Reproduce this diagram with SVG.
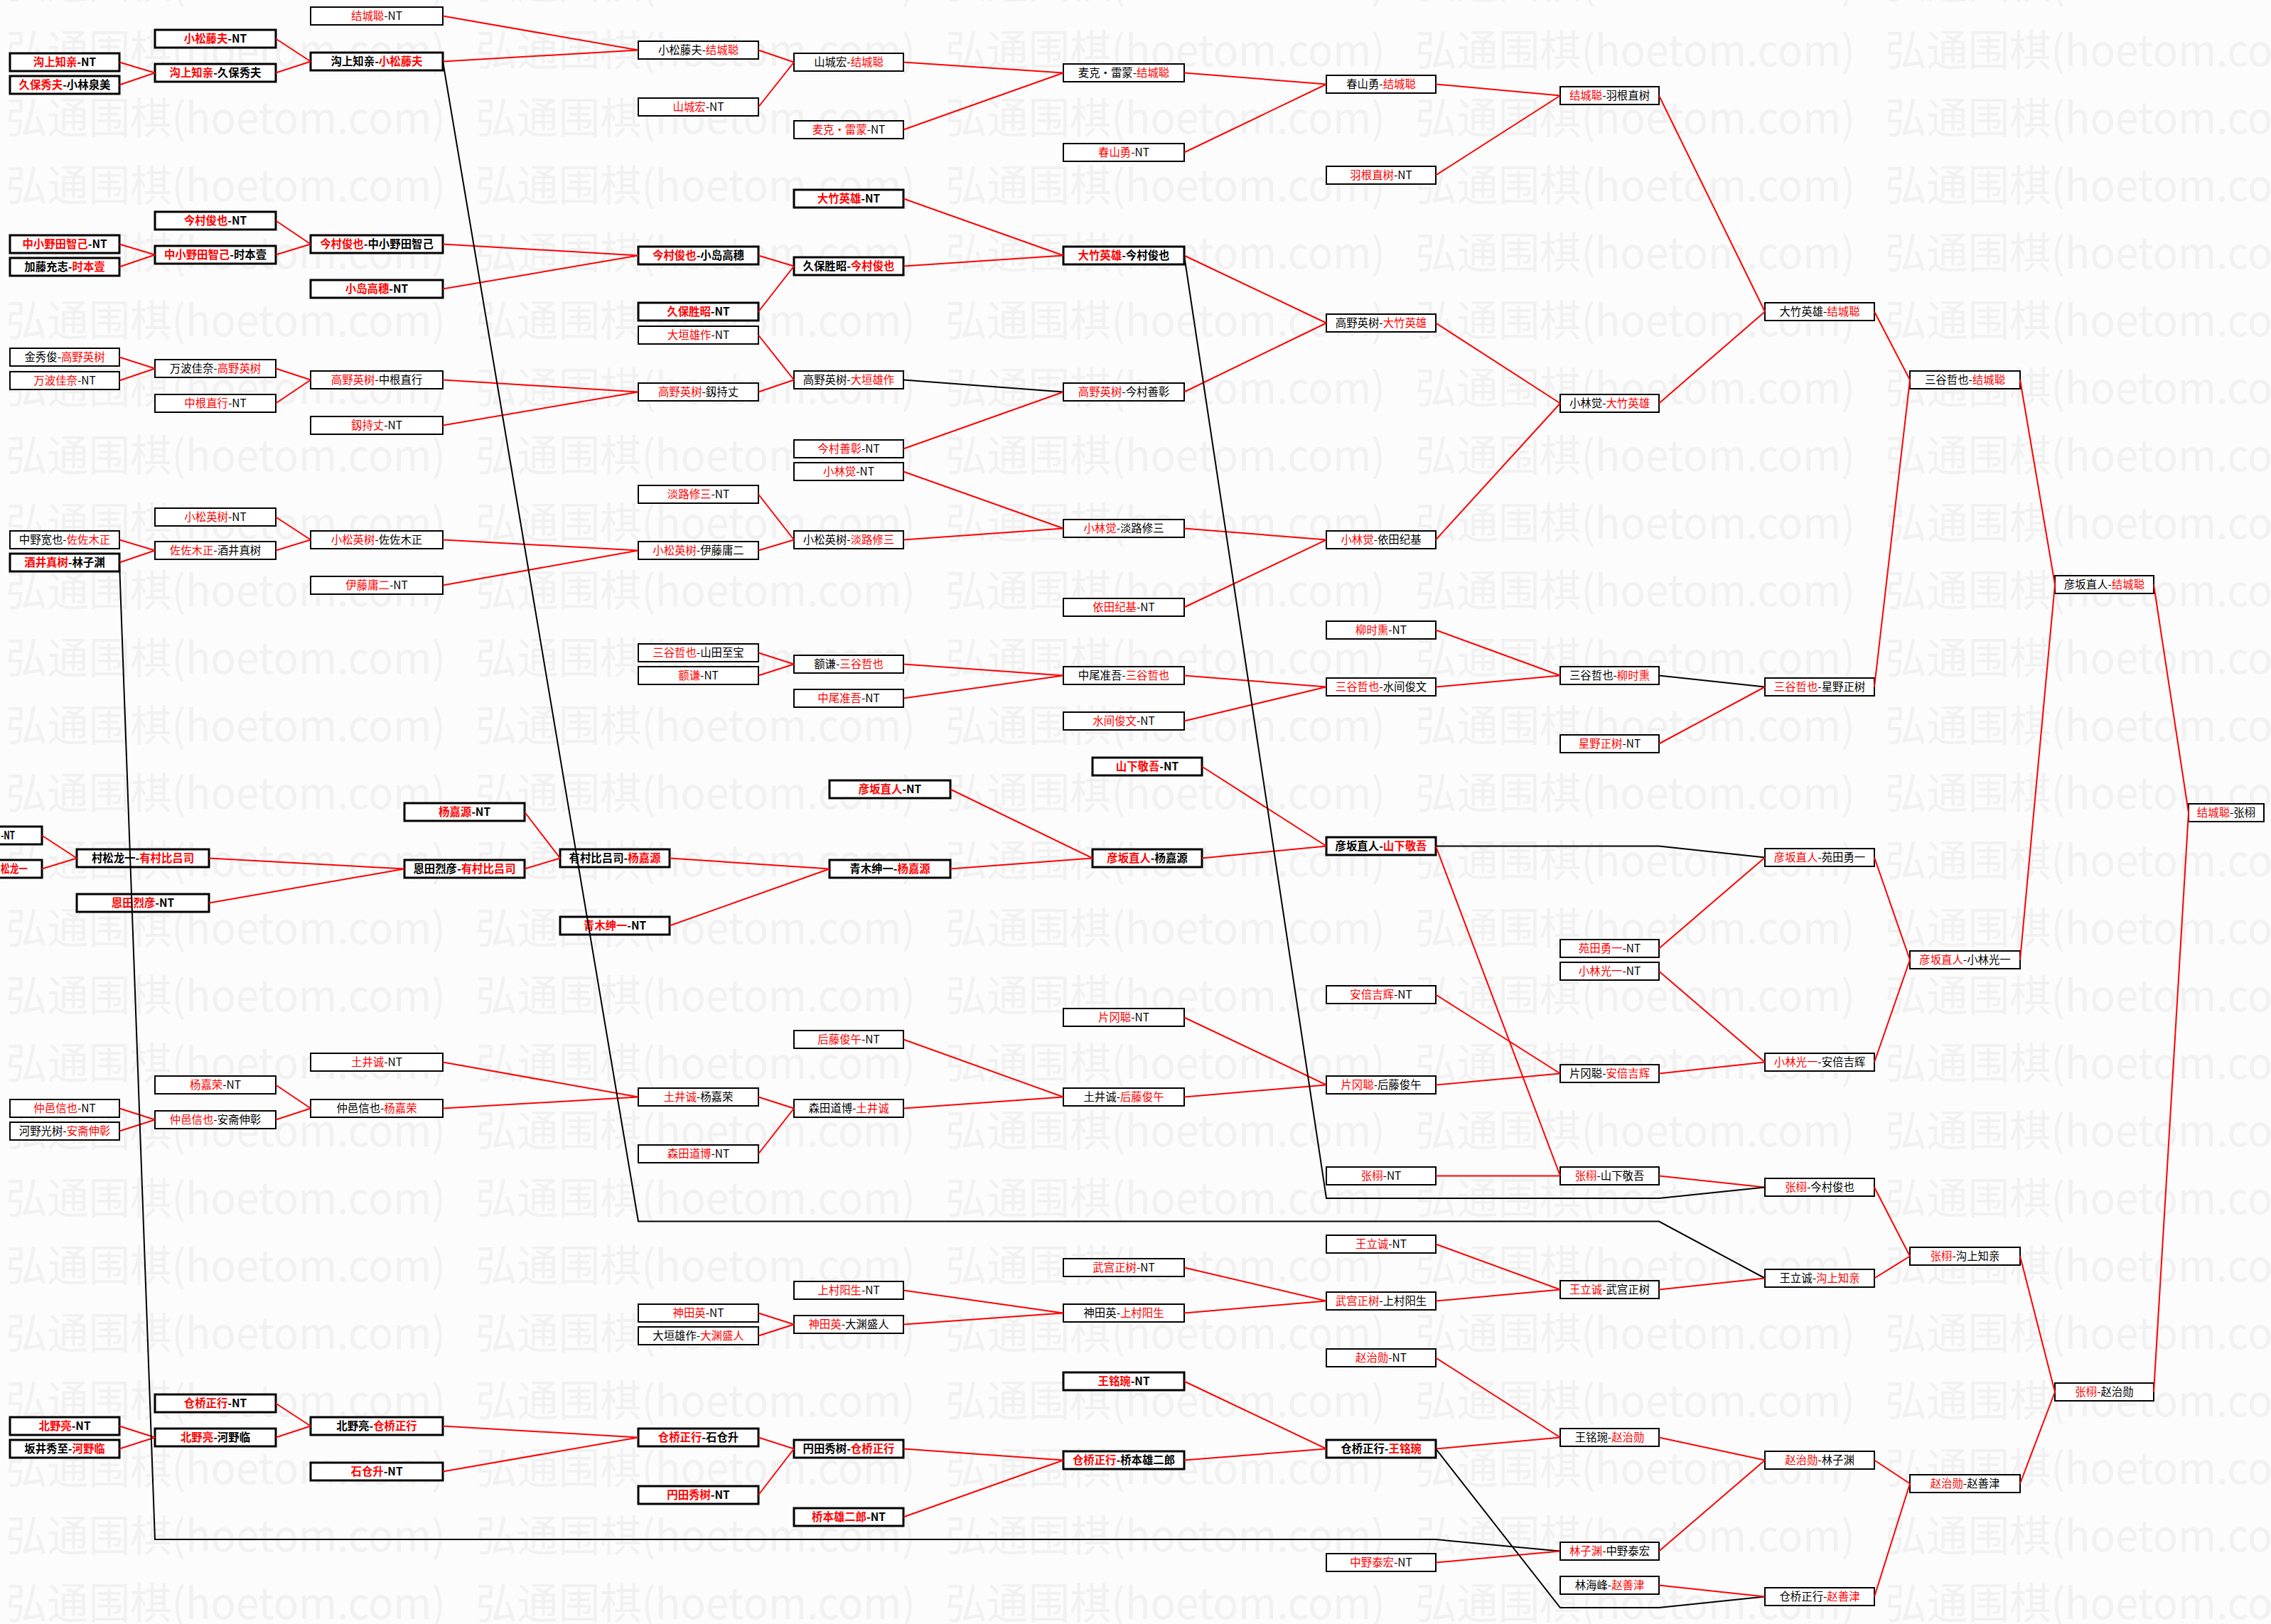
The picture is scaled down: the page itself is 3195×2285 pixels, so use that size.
<svg xmlns="http://www.w3.org/2000/svg" width="3195" height="2285" viewBox="0 0 3195 2285">
<style>
.bg{fill:#fcfcfc}
.nd rect{fill:#fff;stroke:#000;stroke-width:2}
.nd.bd rect{stroke-width:3}
.nd text{font-family:"Noto Sans CJK SC","Noto Sans",sans-serif;font-size:15.4px;text-anchor:middle;fill:#000}
.nd.bd text{font-weight:bold}
.r{fill:#f00}
#edges line,#edges polyline{fill:none;stroke:#f00;stroke-width:2}
#edges .k{stroke:#000}
.wm{font-family:"Noto Sans CJK SC",sans-serif;font-size:60px;fill:#f1f1f1}
</style>
<defs>
<pattern id="wmp" patternUnits="userSpaceOnUse" x="8" y="30" width="661" height="95">
<text class="wm" x="0" y="63" textLength="619" lengthAdjust="spacingAndGlyphs">弘通围棋(hoetom.com)</text>
</pattern>
</defs>
<rect class="bg" x="0" y="0" width="3195" height="2285"/>
<rect id="watermark" x="0" y="0" width="3195" height="2285" fill="url(#wmp)"/>
<g id="nodes">
<g id="A1" class="nd bd"><rect x="14" y="75" width="154" height="25"/><text x="91" y="93"><tspan class="r">沟上知亲</tspan>-NT</text></g>
<g id="A2" class="nd bd"><rect x="14" y="107" width="154" height="25"/><text x="91" y="125"><tspan class="r">久保秀夫</tspan>-小林泉美</text></g>
<g id="B1" class="nd bd"><rect x="218" y="42" width="170" height="25"/><text x="303" y="60"><tspan class="r">小松藤夫</tspan>-NT</text></g>
<g id="B2" class="nd bd"><rect x="218" y="90" width="170" height="25"/><text x="303" y="108"><tspan class="r">沟上知亲</tspan>-久保秀夫</text></g>
<g id="C1" class="nd"><rect x="437" y="10" width="186" height="25"/><text x="530" y="28"><tspan class="r">结城聪</tspan>-NT</text></g>
<g id="C2" class="nd bd"><rect x="437" y="74" width="186" height="25"/><text x="530" y="92">沟上知亲-<tspan class="r">小松藤夫</tspan></text></g>
<g id="D1" class="nd"><rect x="898" y="58" width="169" height="25"/><text x="982.5" y="76">小松藤夫-<tspan class="r">结城聪</tspan></text></g>
<g id="D2" class="nd"><rect x="898" y="138" width="169" height="25"/><text x="982.5" y="156"><tspan class="r">山城宏</tspan>-NT</text></g>
<g id="E1" class="nd"><rect x="1117" y="75" width="154" height="25"/><text x="1194" y="93">山城宏-<tspan class="r">结城聪</tspan></text></g>
<g id="E2" class="nd"><rect x="1117" y="170" width="154" height="25"/><text x="1194" y="188"><tspan class="r">麦克・雷蒙</tspan>-NT</text></g>
<g id="F1" class="nd"><rect x="1496" y="90" width="170" height="25"/><text x="1581" y="108">麦克・雷蒙-<tspan class="r">结城聪</tspan></text></g>
<g id="F2" class="nd"><rect x="1496" y="202" width="170" height="25"/><text x="1581" y="220"><tspan class="r">春山勇</tspan>-NT</text></g>
<g id="G1" class="nd"><rect x="1866" y="106" width="154" height="25"/><text x="1943" y="124">春山勇-<tspan class="r">结城聪</tspan></text></g>
<g id="G2" class="nd"><rect x="1866" y="234" width="154" height="25"/><text x="1943" y="252"><tspan class="r">羽根直树</tspan>-NT</text></g>
<g id="H1" class="nd"><rect x="2195" y="122" width="139" height="25"/><text x="2264.5" y="140"><tspan class="r">结城聪</tspan>-羽根直树</text></g>
<g id="I1" class="nd"><rect x="2483" y="426" width="154" height="25"/><text x="2560" y="444">大竹英雄-<tspan class="r">结城聪</tspan></text></g>
<g id="J1" class="nd"><rect x="2687" y="522" width="155" height="25"/><text x="2764.5" y="540">三谷哲也-<tspan class="r">结城聪</tspan></text></g>
<g id="K1" class="nd"><rect x="2891" y="810" width="139" height="25"/><text x="2960.5" y="828">彦坂直人-<tspan class="r">结城聪</tspan></text></g>
<g id="L1" class="nd"><rect x="3079" y="1131" width="106" height="25"/><text x="3132" y="1149"><tspan class="r">结城聪</tspan>-张栩</text></g>

<g id="A3" class="nd bd"><rect x="14" y="331" width="154" height="25"/><text x="91" y="349"><tspan class="r">中小野田智己</tspan>-NT</text></g>
<g id="A4" class="nd bd"><rect x="14" y="363" width="154" height="25"/><text x="91" y="381">加藤充志-<tspan class="r">时本壹</tspan></text></g>
<g id="B3" class="nd bd"><rect x="218" y="298" width="170" height="25"/><text x="303" y="316"><tspan class="r">今村俊也</tspan>-NT</text></g>
<g id="B4" class="nd bd"><rect x="218" y="346" width="170" height="25"/><text x="303" y="364"><tspan class="r">中小野田智己</tspan>-时本壹</text></g>
<g id="C3" class="nd bd"><rect x="437" y="331" width="186" height="25"/><text x="530" y="349"><tspan class="r">今村俊也</tspan>-中小野田智己</text></g>
<g id="C4" class="nd bd"><rect x="437" y="394" width="186" height="25"/><text x="530" y="412"><tspan class="r">小岛高穗</tspan>-NT</text></g>
<g id="D3" class="nd bd"><rect x="898" y="347" width="169" height="25"/><text x="982.5" y="365"><tspan class="r">今村俊也</tspan>-小岛高穗</text></g>
<g id="D4" class="nd bd"><rect x="898" y="426" width="169" height="25"/><text x="982.5" y="444"><tspan class="r">久保胜昭</tspan>-NT</text></g>
<g id="E3" class="nd bd"><rect x="1117" y="267" width="154" height="25"/><text x="1194" y="285"><tspan class="r">大竹英雄</tspan>-NT</text></g>
<g id="E4" class="nd bd"><rect x="1117" y="362" width="154" height="25"/><text x="1194" y="380">久保胜昭-<tspan class="r">今村俊也</tspan></text></g>
<g id="F3" class="nd bd"><rect x="1496" y="347" width="170" height="25"/><text x="1581" y="365"><tspan class="r">大竹英雄</tspan>-今村俊也</text></g>
<g id="G3" class="nd"><rect x="1866" y="442" width="154" height="25"/><text x="1943" y="460">高野英树-<tspan class="r">大竹英雄</tspan></text></g>
<g id="H2" class="nd"><rect x="2195" y="555" width="139" height="25"/><text x="2264.5" y="573">小林觉-<tspan class="r">大竹英雄</tspan></text></g>

<g id="A5" class="nd"><rect x="14" y="490" width="154" height="25"/><text x="91" y="508">金秀俊-<tspan class="r">高野英树</tspan></text></g>
<g id="A6" class="nd"><rect x="14" y="523" width="154" height="25"/><text x="91" y="541"><tspan class="r">万波佳奈</tspan>-NT</text></g>
<g id="B5" class="nd"><rect x="218" y="506" width="170" height="25"/><text x="303" y="524">万波佳奈-<tspan class="r">高野英树</tspan></text></g>
<g id="B6" class="nd"><rect x="218" y="555" width="170" height="25"/><text x="303" y="573"><tspan class="r">中根直行</tspan>-NT</text></g>
<g id="C5" class="nd"><rect x="437" y="522" width="186" height="25"/><text x="530" y="540"><tspan class="r">高野英树</tspan>-中根直行</text></g>
<g id="C6" class="nd"><rect x="437" y="586" width="186" height="25"/><text x="530" y="604"><tspan class="r">釼持丈</tspan>-NT</text></g>
<g id="D5" class="nd"><rect x="898" y="459" width="169" height="25"/><text x="982.5" y="477"><tspan class="r">大垣雄作</tspan>-NT</text></g>
<g id="D6" class="nd"><rect x="898" y="539" width="169" height="25"/><text x="982.5" y="557"><tspan class="r">高野英树</tspan>-釼持丈</text></g>
<g id="E5" class="nd"><rect x="1117" y="522" width="154" height="25"/><text x="1194" y="540">高野英树-<tspan class="r">大垣雄作</tspan></text></g>
<g id="E6" class="nd"><rect x="1117" y="619" width="154" height="25"/><text x="1194" y="637"><tspan class="r">今村善彰</tspan>-NT</text></g>
<g id="F4" class="nd"><rect x="1496" y="539" width="170" height="25"/><text x="1581" y="557"><tspan class="r">高野英树</tspan>-今村善彰</text></g>

<g id="A7" class="nd"><rect x="14" y="747" width="154" height="25"/><text x="91" y="765">中野宽也-<tspan class="r">佐佐木正</tspan></text></g>
<g id="A8" class="nd bd"><rect x="14" y="779" width="154" height="25"/><text x="91" y="797"><tspan class="r">酒井真树</tspan>-林子渊</text></g>
<g id="B7" class="nd"><rect x="218" y="715" width="170" height="25"/><text x="303" y="733"><tspan class="r">小松英树</tspan>-NT</text></g>
<g id="B8" class="nd"><rect x="218" y="762" width="170" height="25"/><text x="303" y="780"><tspan class="r">佐佐木正</tspan>-酒井真树</text></g>
<g id="C7" class="nd"><rect x="437" y="747" width="186" height="25"/><text x="530" y="765"><tspan class="r">小松英树</tspan>-佐佐木正</text></g>
<g id="C8" class="nd"><rect x="437" y="811" width="186" height="25"/><text x="530" y="829"><tspan class="r">伊藤庸二</tspan>-NT</text></g>
<g id="D7" class="nd"><rect x="898" y="683" width="169" height="25"/><text x="982.5" y="701"><tspan class="r">淡路修三</tspan>-NT</text></g>
<g id="D8" class="nd"><rect x="898" y="762" width="169" height="25"/><text x="982.5" y="780"><tspan class="r">小松英树</tspan>-伊藤庸二</text></g>
<g id="E7" class="nd"><rect x="1117" y="651" width="154" height="25"/><text x="1194" y="669"><tspan class="r">小林觉</tspan>-NT</text></g>
<g id="E8" class="nd"><rect x="1117" y="747" width="154" height="25"/><text x="1194" y="765">小松英树-<tspan class="r">淡路修三</tspan></text></g>
<g id="F5" class="nd"><rect x="1496" y="731" width="170" height="25"/><text x="1581" y="749"><tspan class="r">小林觉</tspan>-淡路修三</text></g>
<g id="F6" class="nd"><rect x="1496" y="842" width="170" height="25"/><text x="1581" y="860"><tspan class="r">依田纪基</tspan>-NT</text></g>
<g id="G4" class="nd"><rect x="1866" y="747" width="154" height="25"/><text x="1943" y="765"><tspan class="r">小林觉</tspan>-依田纪基</text></g>

<g id="D9" class="nd"><rect x="898" y="906" width="169" height="25"/><text x="982.5" y="924"><tspan class="r">三谷哲也</tspan>-山田至宝</text></g>
<g id="D10" class="nd"><rect x="898" y="938" width="169" height="25"/><text x="982.5" y="956"><tspan class="r">额谦</tspan>-NT</text></g>
<g id="E9" class="nd"><rect x="1117" y="922" width="154" height="25"/><text x="1194" y="940">额谦-<tspan class="r">三谷哲也</tspan></text></g>
<g id="E10" class="nd"><rect x="1117" y="970" width="154" height="25"/><text x="1194" y="988"><tspan class="r">中尾准吾</tspan>-NT</text></g>
<g id="F7" class="nd"><rect x="1496" y="938" width="170" height="25"/><text x="1581" y="956">中尾准吾-<tspan class="r">三谷哲也</tspan></text></g>
<g id="F8" class="nd"><rect x="1496" y="1002" width="170" height="25"/><text x="1581" y="1020"><tspan class="r">水间俊文</tspan>-NT</text></g>
<g id="G5" class="nd"><rect x="1866" y="874" width="154" height="25"/><text x="1943" y="892"><tspan class="r">柳时熏</tspan>-NT</text></g>
<g id="G6" class="nd"><rect x="1866" y="954" width="154" height="25"/><text x="1943" y="972"><tspan class="r">三谷哲也</tspan>-水间俊文</text></g>
<g id="H3" class="nd"><rect x="2195" y="938" width="139" height="25"/><text x="2264.5" y="956">三谷哲也-<tspan class="r">柳时熏</tspan></text></g>
<g id="H4" class="nd"><rect x="2195" y="1034" width="139" height="25"/><text x="2264.5" y="1052"><tspan class="r">星野正树</tspan>-NT</text></g>
<g id="I2" class="nd"><rect x="2483" y="954" width="154" height="25"/><text x="2560" y="972"><tspan class="r">三谷哲也</tspan>-星野正树</text></g>

<g id="X1" class="nd bd"><rect x="-111" y="1163" width="170" height="25"/><text x="1" y="1181" style="text-anchor:start" textLength="20" lengthAdjust="spacingAndGlyphs">-NT</text></g>
<g id="X2" class="nd bd"><rect x="-111" y="1210" width="170" height="25"/><text x="1" y="1228" style="text-anchor:start" textLength="38" lengthAdjust="spacingAndGlyphs"><tspan class="r">松龙一</tspan></text></g>
<g id="B9" class="nd bd"><rect x="108" y="1195" width="186" height="25"/><text x="201" y="1213">村松龙一-<tspan class="r">有村比吕司</tspan></text></g>
<g id="B10" class="nd bd"><rect x="108" y="1258" width="186" height="25"/><text x="201" y="1276"><tspan class="r">恩田烈彦</tspan>-NT</text></g>
<g id="C9" class="nd bd"><rect x="569" y="1130" width="169" height="25"/><text x="653.5" y="1148"><tspan class="r">杨嘉源</tspan>-NT</text></g>
<g id="C10" class="nd bd"><rect x="569" y="1210" width="169" height="25"/><text x="653.5" y="1228">恩田烈彦-<tspan class="r">有村比吕司</tspan></text></g>
<g id="D11" class="nd bd"><rect x="788" y="1195" width="154" height="25"/><text x="865" y="1213">有村比吕司-<tspan class="r">杨嘉源</tspan></text></g>
<g id="D12" class="nd bd"><rect x="788" y="1290" width="154" height="25"/><text x="865" y="1308"><tspan class="r">青木绅一</tspan>-NT</text></g>
<g id="E11" class="nd bd"><rect x="1167" y="1098" width="170" height="25"/><text x="1252" y="1116"><tspan class="r">彦坂直人</tspan>-NT</text></g>
<g id="E12" class="nd bd"><rect x="1167" y="1210" width="170" height="25"/><text x="1252" y="1228">青木绅一-<tspan class="r">杨嘉源</tspan></text></g>
<g id="F9" class="nd bd"><rect x="1537" y="1066" width="154" height="25"/><text x="1614" y="1084"><tspan class="r">山下敬吾</tspan>-NT</text></g>
<g id="F10" class="nd bd"><rect x="1537" y="1195" width="154" height="25"/><text x="1614" y="1213"><tspan class="r">彦坂直人</tspan>-杨嘉源</text></g>
<g id="G7" class="nd bd"><rect x="1866" y="1178" width="154" height="25"/><text x="1943" y="1196">彦坂直人-<tspan class="r">山下敬吾</tspan></text></g>
<g id="H5" class="nd"><rect x="2195" y="1322" width="139" height="25"/><text x="2264.5" y="1340"><tspan class="r">苑田勇一</tspan>-NT</text></g>
<g id="I3" class="nd"><rect x="2483" y="1194" width="154" height="25"/><text x="2560" y="1212"><tspan class="r">彦坂直人</tspan>-苑田勇一</text></g>
<g id="H6" class="nd"><rect x="2195" y="1354" width="139" height="25"/><text x="2264.5" y="1372"><tspan class="r">小林光一</tspan>-NT</text></g>
<g id="G8" class="nd"><rect x="1866" y="1387" width="154" height="25"/><text x="1943" y="1405"><tspan class="r">安倍吉辉</tspan>-NT</text></g>
<g id="H7" class="nd"><rect x="2195" y="1498" width="139" height="25"/><text x="2264.5" y="1516">片冈聪-<tspan class="r">安倍吉辉</tspan></text></g>
<g id="I4" class="nd"><rect x="2483" y="1482" width="154" height="25"/><text x="2560" y="1500"><tspan class="r">小林光一</tspan>-安倍吉辉</text></g>
<g id="J2" class="nd"><rect x="2687" y="1338" width="155" height="25"/><text x="2764.5" y="1356"><tspan class="r">彦坂直人</tspan>-小林光一</text></g>
<g id="F11" class="nd"><rect x="1496" y="1419" width="170" height="25"/><text x="1581" y="1437"><tspan class="r">片冈聪</tspan>-NT</text></g>
<g id="G9" class="nd"><rect x="1866" y="1514" width="154" height="25"/><text x="1943" y="1532"><tspan class="r">片冈聪</tspan>-后藤俊午</text></g>
<g id="E13" class="nd"><rect x="1117" y="1450" width="154" height="25"/><text x="1194" y="1468"><tspan class="r">后藤俊午</tspan>-NT</text></g>
<g id="F12" class="nd"><rect x="1496" y="1531" width="170" height="25"/><text x="1581" y="1549">土井诚-<tspan class="r">后藤俊午</tspan></text></g>
<g id="C11" class="nd"><rect x="437" y="1482" width="186" height="25"/><text x="530" y="1500"><tspan class="r">土井诚</tspan>-NT</text></g>
<g id="B11" class="nd"><rect x="218" y="1514" width="170" height="25"/><text x="303" y="1532"><tspan class="r">杨嘉荣</tspan>-NT</text></g>
<g id="A9" class="nd"><rect x="14" y="1547" width="154" height="25"/><text x="91" y="1565"><tspan class="r">仲邑信也</tspan>-NT</text></g>
<g id="A10" class="nd"><rect x="14" y="1579" width="154" height="25"/><text x="91" y="1597">河野光树-<tspan class="r">安斋伸彰</tspan></text></g>
<g id="B12" class="nd"><rect x="218" y="1563" width="170" height="25"/><text x="303" y="1581"><tspan class="r">仲邑信也</tspan>-安斋伸彰</text></g>
<g id="C12" class="nd"><rect x="437" y="1547" width="186" height="25"/><text x="530" y="1565">仲邑信也-<tspan class="r">杨嘉荣</tspan></text></g>
<g id="D13" class="nd"><rect x="898" y="1531" width="169" height="25"/><text x="982.5" y="1549"><tspan class="r">土井诚</tspan>-杨嘉荣</text></g>
<g id="D14" class="nd"><rect x="898" y="1611" width="169" height="25"/><text x="982.5" y="1629"><tspan class="r">森田道博</tspan>-NT</text></g>
<g id="E14" class="nd"><rect x="1117" y="1547" width="154" height="25"/><text x="1194" y="1565">森田道博-<tspan class="r">土井诚</tspan></text></g>

<g id="G10" class="nd"><rect x="1866" y="1642" width="154" height="25"/><text x="1943" y="1660"><tspan class="r">张栩</tspan>-NT</text></g>
<g id="H8" class="nd"><rect x="2195" y="1642" width="139" height="25"/><text x="2264.5" y="1660"><tspan class="r">张栩</tspan>-山下敬吾</text></g>
<g id="I5" class="nd"><rect x="2483" y="1658" width="154" height="25"/><text x="2560" y="1676"><tspan class="r">张栩</tspan>-今村俊也</text></g>
<g id="G11" class="nd"><rect x="1866" y="1738" width="154" height="25"/><text x="1943" y="1756"><tspan class="r">王立诚</tspan>-NT</text></g>
<g id="F13" class="nd"><rect x="1496" y="1771" width="170" height="25"/><text x="1581" y="1789"><tspan class="r">武宫正树</tspan>-NT</text></g>
<g id="E15" class="nd"><rect x="1117" y="1803" width="154" height="25"/><text x="1194" y="1821"><tspan class="r">上村阳生</tspan>-NT</text></g>
<g id="D15" class="nd"><rect x="898" y="1835" width="169" height="25"/><text x="982.5" y="1853"><tspan class="r">神田英</tspan>-NT</text></g>
<g id="D16" class="nd"><rect x="898" y="1867" width="169" height="25"/><text x="982.5" y="1885">大垣雄作-<tspan class="r">大渊盛人</tspan></text></g>
<g id="E16" class="nd"><rect x="1117" y="1851" width="154" height="25"/><text x="1194" y="1869"><tspan class="r">神田英</tspan>-大渊盛人</text></g>
<g id="F14" class="nd"><rect x="1496" y="1835" width="170" height="25"/><text x="1581" y="1853">神田英-<tspan class="r">上村阳生</tspan></text></g>
<g id="G12" class="nd"><rect x="1866" y="1818" width="154" height="25"/><text x="1943" y="1836"><tspan class="r">武宫正树</tspan>-上村阳生</text></g>
<g id="H9" class="nd"><rect x="2195" y="1802" width="139" height="25"/><text x="2264.5" y="1820"><tspan class="r">王立诚</tspan>-武宫正树</text></g>
<g id="I6" class="nd"><rect x="2483" y="1786" width="154" height="25"/><text x="2560" y="1804">王立诚-<tspan class="r">沟上知亲</tspan></text></g>
<g id="J3" class="nd"><rect x="2687" y="1755" width="155" height="25"/><text x="2764.5" y="1773"><tspan class="r">张栩</tspan>-沟上知亲</text></g>
<g id="K2" class="nd"><rect x="2891" y="1946" width="139" height="25"/><text x="2960.5" y="1964"><tspan class="r">张栩</tspan>-赵治勋</text></g>
<g id="G13" class="nd"><rect x="1866" y="1898" width="154" height="25"/><text x="1943" y="1916"><tspan class="r">赵治勋</tspan>-NT</text></g>
<g id="F15" class="nd bd"><rect x="1496" y="1931" width="170" height="25"/><text x="1581" y="1949"><tspan class="r">王铭琬</tspan>-NT</text></g>
<g id="B13" class="nd bd"><rect x="218" y="1962" width="170" height="25"/><text x="303" y="1980"><tspan class="r">仓桥正行</tspan>-NT</text></g>
<g id="A11" class="nd bd"><rect x="14" y="1994" width="154" height="25"/><text x="91" y="2012"><tspan class="r">北野亮</tspan>-NT</text></g>
<g id="A12" class="nd bd"><rect x="14" y="2026" width="154" height="25"/><text x="91" y="2044">坂井秀至-<tspan class="r">河野临</tspan></text></g>
<g id="B14" class="nd bd"><rect x="218" y="2010" width="170" height="25"/><text x="303" y="2028"><tspan class="r">北野亮</tspan>-河野临</text></g>
<g id="C13" class="nd bd"><rect x="437" y="1994" width="186" height="25"/><text x="530" y="2012">北野亮-<tspan class="r">仓桥正行</tspan></text></g>
<g id="C14" class="nd bd"><rect x="437" y="2058" width="186" height="25"/><text x="530" y="2076"><tspan class="r">石仓升</tspan>-NT</text></g>
<g id="D17" class="nd bd"><rect x="898" y="2010" width="169" height="25"/><text x="982.5" y="2028"><tspan class="r">仓桥正行</tspan>-石仓升</text></g>
<g id="D18" class="nd bd"><rect x="898" y="2091" width="169" height="25"/><text x="982.5" y="2109"><tspan class="r">円田秀树</tspan>-NT</text></g>
<g id="E17" class="nd bd"><rect x="1117" y="2026" width="154" height="25"/><text x="1194" y="2044">円田秀树-<tspan class="r">仓桥正行</tspan></text></g>
<g id="E18" class="nd bd"><rect x="1117" y="2122" width="154" height="25"/><text x="1194" y="2140"><tspan class="r">桥本雄二郎</tspan>-NT</text></g>
<g id="F16" class="nd bd"><rect x="1496" y="2042" width="170" height="25"/><text x="1581" y="2060"><tspan class="r">仓桥正行</tspan>-桥本雄二郎</text></g>
<g id="G14" class="nd bd"><rect x="1866" y="2026" width="154" height="25"/><text x="1943" y="2044">仓桥正行-<tspan class="r">王铭琬</tspan></text></g>
<g id="H10" class="nd"><rect x="2195" y="2010" width="139" height="25"/><text x="2264.5" y="2028">王铭琬-<tspan class="r">赵治勋</tspan></text></g>
<g id="H11" class="nd"><rect x="2195" y="2170" width="139" height="25"/><text x="2264.5" y="2188"><tspan class="r">林子渊</tspan>-中野泰宏</text></g>
<g id="G15" class="nd"><rect x="1866" y="2186" width="154" height="25"/><text x="1943" y="2204"><tspan class="r">中野泰宏</tspan>-NT</text></g>
<g id="H12" class="nd"><rect x="2195" y="2218" width="139" height="25"/><text x="2264.5" y="2236">林海峰-<tspan class="r">赵善津</tspan></text></g>
<g id="I7" class="nd"><rect x="2483" y="2042" width="154" height="25"/><text x="2560" y="2060"><tspan class="r">赵治勋</tspan>-林子渊</text></g>
<g id="I8" class="nd"><rect x="2483" y="2234" width="154" height="25"/><text x="2560" y="2252">仓桥正行-<tspan class="r">赵善津</tspan></text></g>
<g id="J4" class="nd"><rect x="2687" y="2075" width="155" height="25"/><text x="2764.5" y="2093"><tspan class="r">赵治勋</tspan>-赵善津</text></g>
</g>
<g id="edges">
<line x1="168" y1="87.5" x2="218" y2="102.5"/>
<line x1="168" y1="119.5" x2="218" y2="102.5"/>
<line x1="388" y1="54.5" x2="437" y2="86.5"/>
<line x1="388" y1="102.5" x2="437" y2="86.5"/>
<line x1="623" y1="22.5" x2="898" y2="70.5"/>
<line x1="623" y1="86.5" x2="898" y2="70.5"/>
<line x1="1067" y1="70.5" x2="1117" y2="87.5"/>
<line x1="1067" y1="150.5" x2="1117" y2="87.5"/>
<line x1="1271" y1="87.5" x2="1496" y2="102.5"/>
<line x1="1271" y1="182.5" x2="1496" y2="102.5"/>
<line x1="1666" y1="102.5" x2="1866" y2="118.5"/>
<line x1="1666" y1="214.5" x2="1866" y2="118.5"/>
<line x1="2020" y1="118.5" x2="2195" y2="134.5"/>
<line x1="2020" y1="246.5" x2="2195" y2="134.5"/>
<line x1="2334" y1="134.5" x2="2483" y2="438.5"/>
<line x1="2334" y1="567.5" x2="2483" y2="438.5"/>
<line x1="2637" y1="438.5" x2="2687" y2="534.5"/>
<line x1="2637" y1="966.5" x2="2687" y2="534.5"/>
<line x1="2842" y1="534.5" x2="2891" y2="822.5"/>
<line x1="2842" y1="1350.5" x2="2891" y2="822.5"/>
<line x1="3030" y1="822.5" x2="3079" y2="1143.5"/>
<line x1="3030" y1="1958.5" x2="3079" y2="1143.5"/>
<line x1="168" y1="343.5" x2="218" y2="358.5"/>
<line x1="168" y1="375.5" x2="218" y2="358.5"/>
<line x1="388" y1="310.5" x2="437" y2="343.5"/>
<line x1="388" y1="358.5" x2="437" y2="343.5"/>
<line x1="623" y1="343.5" x2="898" y2="359.5"/>
<line x1="623" y1="406.5" x2="898" y2="359.5"/>
<line x1="1067" y1="359.5" x2="1117" y2="374.5"/>
<line x1="1067" y1="438.5" x2="1117" y2="374.5"/>
<line x1="1271" y1="279.5" x2="1496" y2="359.5"/>
<line x1="1271" y1="374.5" x2="1496" y2="359.5"/>
<line x1="1666" y1="359.5" x2="1866" y2="454.5"/>
<line x1="1666" y1="551.5" x2="1866" y2="454.5"/>
<line x1="2020" y1="454.5" x2="2195" y2="567.5"/>
<line x1="2020" y1="759.5" x2="2195" y2="567.5"/>
<line x1="168" y1="502.5" x2="218" y2="518.5"/>
<line x1="168" y1="535.5" x2="218" y2="518.5"/>
<line x1="388" y1="518.5" x2="437" y2="534.5"/>
<line x1="388" y1="567.5" x2="437" y2="534.5"/>
<line x1="623" y1="534.5" x2="898" y2="551.5"/>
<line x1="623" y1="598.5" x2="898" y2="551.5"/>
<line x1="1067" y1="471.5" x2="1117" y2="534.5"/>
<line x1="1067" y1="551.5" x2="1117" y2="534.5"/>
<line class="k" x1="1271" y1="534.5" x2="1496" y2="551.5"/>
<line x1="1271" y1="631.5" x2="1496" y2="551.5"/>
<line x1="168" y1="759.5" x2="218" y2="774.5"/>
<line x1="168" y1="791.5" x2="218" y2="774.5"/>
<line x1="388" y1="727.5" x2="437" y2="759.5"/>
<line x1="388" y1="774.5" x2="437" y2="759.5"/>
<line x1="623" y1="759.5" x2="898" y2="774.5"/>
<line x1="623" y1="823.5" x2="898" y2="774.5"/>
<line x1="1067" y1="695.5" x2="1117" y2="759.5"/>
<line x1="1067" y1="774.5" x2="1117" y2="759.5"/>
<line x1="1271" y1="663.5" x2="1496" y2="743.5"/>
<line x1="1271" y1="759.5" x2="1496" y2="743.5"/>
<line x1="1666" y1="743.5" x2="1866" y2="759.5"/>
<line x1="1666" y1="854.5" x2="1866" y2="759.5"/>
<line x1="1067" y1="918.5" x2="1117" y2="934.5"/>
<line x1="1067" y1="950.5" x2="1117" y2="934.5"/>
<line x1="1271" y1="934.5" x2="1496" y2="950.5"/>
<line x1="1271" y1="982.5" x2="1496" y2="950.5"/>
<line x1="1666" y1="950.5" x2="1866" y2="966.5"/>
<line x1="1666" y1="1014.5" x2="1866" y2="966.5"/>
<line x1="2020" y1="886.5" x2="2195" y2="950.5"/>
<line x1="2020" y1="966.5" x2="2195" y2="950.5"/>
<line class="k" x1="2334" y1="950.5" x2="2483" y2="966.5"/>
<line x1="2334" y1="1046.5" x2="2483" y2="966.5"/>
<line x1="59" y1="1175.5" x2="108" y2="1207.5"/>
<line x1="59" y1="1222.5" x2="108" y2="1207.5"/>
<line x1="294" y1="1207.5" x2="569" y2="1222.5"/>
<line x1="294" y1="1270.5" x2="569" y2="1222.5"/>
<line x1="738" y1="1142.5" x2="788" y2="1207.5"/>
<line x1="738" y1="1222.5" x2="788" y2="1207.5"/>
<line x1="942" y1="1207.5" x2="1167" y2="1222.5"/>
<line x1="942" y1="1302.5" x2="1167" y2="1222.5"/>
<line x1="1337" y1="1110.5" x2="1537" y2="1207.5"/>
<line x1="1337" y1="1222.5" x2="1537" y2="1207.5"/>
<line x1="1691" y1="1078.5" x2="1866" y2="1190.5"/>
<line x1="1691" y1="1207.5" x2="1866" y2="1190.5"/>
<polyline class="k" points="2020,1190.5 2334,1190.5 2483,1206.5"/>
<line x1="2334" y1="1334.5" x2="2483" y2="1206.5"/>
<line x1="2020" y1="1190.5" x2="2195" y2="1654.5"/>
<line x1="2637" y1="1206.5" x2="2687" y2="1350.5"/>
<line x1="2637" y1="1494.5" x2="2687" y2="1350.5"/>
<line x1="2334" y1="1366.5" x2="2483" y2="1494.5"/>
<line x1="2334" y1="1510.5" x2="2483" y2="1494.5"/>
<line x1="2020" y1="1399.5" x2="2195" y2="1510.5"/>
<line x1="2020" y1="1526.5" x2="2195" y2="1510.5"/>
<line x1="1666" y1="1431.5" x2="1866" y2="1526.5"/>
<line x1="1666" y1="1543.5" x2="1866" y2="1526.5"/>
<line x1="1271" y1="1462.5" x2="1496" y2="1543.5"/>
<line x1="1271" y1="1559.5" x2="1496" y2="1543.5"/>
<line x1="1067" y1="1543.5" x2="1117" y2="1559.5"/>
<line x1="1067" y1="1623.5" x2="1117" y2="1559.5"/>
<line x1="623" y1="1494.5" x2="898" y2="1543.5"/>
<line x1="623" y1="1559.5" x2="898" y2="1543.5"/>
<line x1="388" y1="1526.5" x2="437" y2="1559.5"/>
<line x1="388" y1="1575.5" x2="437" y2="1559.5"/>
<line x1="168" y1="1559.5" x2="218" y2="1575.5"/>
<line x1="168" y1="1591.5" x2="218" y2="1575.5"/>
<line x1="2020" y1="1654.5" x2="2195" y2="1654.5"/>
<line x1="2334" y1="1654.5" x2="2483" y2="1670.5"/>
<polyline class="k" points="1666,359.5 1866,1686 2334,1686 2483,1670.5"/>
<line x1="2637" y1="1670.5" x2="2687" y2="1767.5"/>
<line x1="2637" y1="1798.5" x2="2687" y2="1767.5"/>
<polyline class="k" points="623,86.5 898,1718.5 2334,1718.5 2483,1798.5"/>
<line x1="2334" y1="1814.5" x2="2483" y2="1798.5"/>
<line x1="2020" y1="1750.5" x2="2195" y2="1814.5"/>
<line x1="2020" y1="1830.5" x2="2195" y2="1814.5"/>
<line x1="1666" y1="1783.5" x2="1866" y2="1830.5"/>
<line x1="1666" y1="1847.5" x2="1866" y2="1830.5"/>
<line x1="1271" y1="1815.5" x2="1496" y2="1847.5"/>
<line x1="1271" y1="1863.5" x2="1496" y2="1847.5"/>
<line x1="1067" y1="1847.5" x2="1117" y2="1863.5"/>
<line x1="1067" y1="1879.5" x2="1117" y2="1863.5"/>
<line x1="2842" y1="1767.5" x2="2891" y2="1958.5"/>
<line x1="2842" y1="2087.5" x2="2891" y2="1958.5"/>
<line x1="2637" y1="2054.5" x2="2687" y2="2087.5"/>
<line x1="2637" y1="2246.5" x2="2687" y2="2087.5"/>
<line x1="2334" y1="2022.5" x2="2483" y2="2054.5"/>
<line x1="2334" y1="2182.5" x2="2483" y2="2054.5"/>
<line x1="2020" y1="1910.5" x2="2195" y2="2022.5"/>
<line x1="2020" y1="2038.5" x2="2195" y2="2022.5"/>
<line x1="1666" y1="1943.5" x2="1866" y2="2038.5"/>
<line x1="1666" y1="2054.5" x2="1866" y2="2038.5"/>
<line x1="1271" y1="2038.5" x2="1496" y2="2054.5"/>
<line x1="1271" y1="2134.5" x2="1496" y2="2054.5"/>
<line x1="1067" y1="2022.5" x2="1117" y2="2038.5"/>
<line x1="1067" y1="2103.5" x2="1117" y2="2038.5"/>
<line x1="623" y1="2006.5" x2="898" y2="2022.5"/>
<line x1="623" y1="2070.5" x2="898" y2="2022.5"/>
<line x1="388" y1="1974.5" x2="437" y2="2006.5"/>
<line x1="388" y1="2022.5" x2="437" y2="2006.5"/>
<line x1="168" y1="2006.5" x2="218" y2="2022.5"/>
<line x1="168" y1="2038.5" x2="218" y2="2022.5"/>
<polyline class="k" points="168,791.5 218,2166 2020,2166 2195,2182.5"/>
<line x1="2020" y1="2198.5" x2="2195" y2="2182.5"/>
<polyline class="k" points="2020,2038.5 2195,2262 2334,2262 2483,2246.5"/>
<line x1="2334" y1="2230.5" x2="2483" y2="2246.5"/>
</g>
</svg>
